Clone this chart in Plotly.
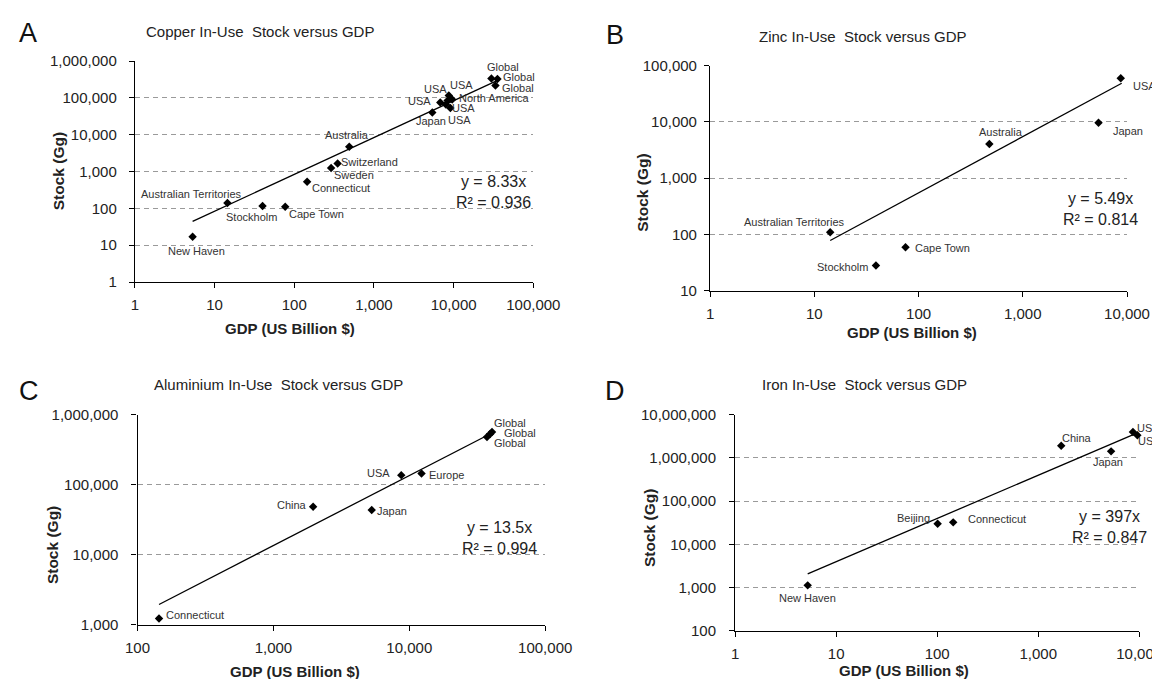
import numpy as np
import plotly.graph_objects as go

W, H = 1160, 679

# ---------------- data ----------------
# A: Copper
cu_labels = ["New Haven", "Australian Territories", "Stockholm", "Cape Town", "Connecticut",
             "Sweden", "Switzerland", "Australia", "Japan", "USA", "USA", "USA",
             "North America", "USA", "USA", "Global", "Global", "Global"]
cu_gdp = [5.3, 14.5, 40, 77, 145, 290, 350, 490, 5400, 6800, 8700, 8400, 9600, 9100, 8000,
          29800, 35500, 33500]
cu_stock = [17, 140, 115, 110, 530, 1250, 1650, 4700, 40000, 75000, 115000, 84000, 90000,
            53000, 66000, 335000, 325000, 217000]
cu_slope, cu_r2 = 8.33, 0.936
cu_fit_x = [5.3, 34000]

# B: Zinc
zn_labels = ["Australian Territories", "Stockholm", "Cape Town", "Australia", "Japan", "USA"]
zn_gdp = [14.2, 39, 75, 478, 5330, 8710]
zn_stock = [109, 28, 59, 4050, 9700, 59600]
zn_slope, zn_r2 = 5.49, 0.814
zn_fit_x = [14.2, 8900]

# C: Aluminium
al_labels = ["Connecticut", "China", "Japan", "USA", "Europe", "Global", "Global", "Global"]
al_gdp = [144, 1960, 5290, 8730, 12300, 40600, 39300, 37300]
al_stock = [1230, 48500, 43400, 137000, 145000, 566000, 530000, 480000]
al_slope, al_r2 = 13.5, 0.994
al_fit_x = [144, 38600]

# D: Iron
fe_labels = ["New Haven", "Beijing", "Connecticut", "China", "Japan", "USA", "USA"]
fe_gdp = [5.22, 101, 144, 1690, 5270, 8670, 9590]
fe_stock = [1120, 30000, 32200, 1915000, 1416000, 3970000, 3330000]
fe_slope, fe_r2 = 397, 0.847
fe_fit_x = [5.22, 9590]

# tick labels
tick_vals = [1, 10, 100, 1000, 10000, 100000, 1000000, 10000000]
tick_text = ["1", "10", "100", "1,000", "10,000", "100,000", "1,000,000", "10,000,000"]

titles = ["Copper In-Use  Stock versus GDP", "Zinc In-Use  Stock versus GDP",
          "Aluminium In-Use  Stock versus GDP", "Iron In-Use  Stock versus GDP"]
letters = ["A", "B", "C", "D"]
x_title = "GDP (US Billion $)"
y_title = "Stock (Gg)"

# ---------------- layout / style (pixels) ----------------
boxes = [
    dict(l=126.9, r=525.3, t=53.0, b=274.0, xr=[0, 5], yr=[0, 6], ystand=9),
    dict(l=702.1, r=1119.0, t=57.7, b=282.7, xr=[0, 4], yr=[1, 5], ystand=4),
    dict(l=129.5, r=537.2, t=406.7, b=616.7, xr=[2, 5], yr=[3, 6], ystand=10),
    dict(l=727.2, r=1131.2, t=406.7, b=622.7, xr=[0, 4], yr=[2, 7], ystand=10),
]
offsets = [
    [(4, 14), (-36, -9), (-11, 11), (31, 7), (34, 6), (23, 7), (32, -1), (-2, -12), (-1, 9),
     (-21, -1), (-13, -7), (14, -16), (42, -1.5), (13, 0), (14, 16), (12, -11.5), (22, -1.5),
     (23, 2.5)],
    [(-36, -10), (-33, 1), (37, 1), (12, -12), (29, 8), (24, 8)],
    [(36, -3), (-21.5, -2), (20, 1), (-23, -2), (25, 2), (18, -9), (30, -1), (23, 6)],
    [(0, 13), (-24, -6), (44, -3), (16, -8), (-3, 11), (15.5, -4), (12, 6)],
]
title_pos = [(251.5, 23.3), (854.7, 28.3), (270, 376.7), (856, 376.7)]
letter_pos = [(20, 25), (606.6, 26.7), (21, 383.3), (607, 383.3)]
xtitle_pos = [(282, 320), (903.7, 324), (286.7, 663), (896.3, 662)]
ytitle_pos = [(50, 163.3), (634.8, 185), (44.4, 536.7), (641, 520)]
eq_pos = [(485.4, 184), (1092, 201), (491.3, 530.3), (1101.6, 518.5)]

FONT = "Arial, Liberation Sans, sans-serif"
TXT = "#222222"
LBL = "#333333"


def px(x):
    return x / W


def py(y):
    return 1 - y / H


def paper_text(x, y, text, size, color=TXT, angle=0):
    return dict(x=px(x), y=py(y), xref="paper", yref="paper", text=text,
                xanchor="center", yanchor="middle", showarrow=False, textangle=angle,
                align="center", font=dict(family=FONT, size=size, color=color))


panels = [
    (cu_labels, cu_gdp, cu_stock, cu_slope, cu_r2, cu_fit_x),
    (zn_labels, zn_gdp, zn_stock, zn_slope, zn_r2, zn_fit_x),
    (al_labels, al_gdp, al_stock, al_slope, al_r2, al_fit_x),
    (fe_labels, fe_gdp, fe_stock, fe_slope, fe_r2, fe_fit_x),
]

fig = go.Figure()
annotations = []
layout_axes = {}

for i, (labs, gx, gy, slope, r2, fitx) in enumerate(panels):
    n = "" if i == 0 else str(i + 1)
    xa, ya = "x" + n, "y" + n
    bx = boxes[i]

    fx = np.array(fitx, dtype=float)
    fig.add_trace(go.Scatter(x=fx, y=slope * fx, mode="lines", xaxis=xa, yaxis=ya,
                             line=dict(color="black", width=1.3), hoverinfo="skip",
                             showlegend=False))
    fig.add_trace(go.Scatter(x=gx, y=gy, mode="markers", xaxis=xa, yaxis=ya,
                             marker=dict(symbol="diamond", size=6.5, color="black"),
                             showlegend=False, cliponaxis=False))
    for lab, xv, yv, (dx, dy) in zip(labs, gx, gy, offsets[i]):
        annotations.append(dict(x=np.log10(xv), y=np.log10(yv), xref=xa, yref=ya,
                                text=lab, showarrow=False, xshift=dx, yshift=-dy,
                                xanchor="center", yanchor="middle",
                                font=dict(family=FONT, size=11, color=LBL)))

    lo_x, hi_x = bx["xr"]
    lo_y, hi_y = bx["yr"]
    xt = [v for v in tick_vals if 10 ** lo_x <= v <= 10 ** hi_x]
    yt = [v for v in tick_vals if 10 ** lo_y <= v <= 10 ** hi_y]
    xtt = [tick_text[tick_vals.index(v)] for v in xt]
    ytt = [tick_text[tick_vals.index(v)] for v in yt]

    layout_axes["xaxis" + n] = dict(
        type="log", range=bx["xr"], domain=[px(bx["l"]), px(bx["r"])],
        anchor=ya, tickvals=xt, ticktext=xtt, showgrid=False, zeroline=False,
        showline=True, linecolor="black", linewidth=1.3, automargin=False,
        ticks="outside", ticklen=5, tickcolor="black", tickwidth=1.2,
        ticklabelstandoff=4,
        tickfont=dict(family=FONT, size=15, color=TXT))
    layout_axes["yaxis" + n] = dict(
        type="log", range=bx["yr"], domain=[py(bx["b"]), py(bx["t"])],
        anchor=xa, tickvals=yt, ticktext=ytt, showgrid=True,
        gridcolor="#9a9a9a", griddash="5px,4px", gridwidth=1, zeroline=False,
        showline=True, linecolor="black", linewidth=1.3, automargin=False,
        ticks="outside", ticklen=5, tickcolor="black", tickwidth=1.2,
        ticklabelstandoff=bx["ystand"],
        tickfont=dict(family=FONT, size=15, color=TXT))

    annotations.append(paper_text(*title_pos[i], titles[i], 15))
    annotations.append(paper_text(*letter_pos[i], letters[i], 27, "#111111"))
    annotations.append(paper_text(*xtitle_pos[i], "<b>" + x_title + "</b>", 15))
    annotations.append(paper_text(*ytitle_pos[i], "<b>" + y_title + "</b>", 15.5, angle=-90))
    annotations.append(paper_text(*eq_pos[i], "y = %sx<br>R² = %.3f" % (f"{slope:g}", r2), 16))

fig.update_layout(
    width=W, height=H, margin=dict(l=0, r=0, t=0, b=0, autoexpand=False),
    paper_bgcolor="white", plot_bgcolor="white",
    showlegend=False, annotations=annotations, **layout_axes)

fig.write_html("out.html")
